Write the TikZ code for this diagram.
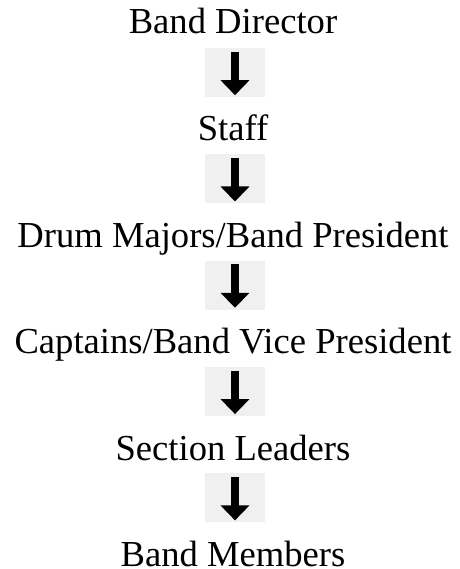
\documentclass[tikz,border=0pt]{standalone}
\usepackage{fontspec}
\setmainfont{Liberation Serif}
\usetikzlibrary{arrows.meta}
\tikzset{
  lbl/.style={anchor=base, inner sep=0pt, font=\fontsize{36.6}{40}\selectfont},
  arrbox/.style={fill=black!6, draw=none, minimum width=60pt, minimum height=49pt, inner sep=0pt},
  bigarrow/.style={line width=8pt, -{Triangle[width=28pt,length=15pt]}}
}
\begin{document}
\begin{tikzpicture}
\useasboundingbox (0pt,0pt) rectangle (459pt,-569pt);
\node[lbl] (t0) at (233pt,-34pt) {Band Director};
\node[lbl] (t1) at (233pt,-140.5pt) {Staff};
\node[lbl] (t2) at (233pt,-247pt) {Drum Majors/Band President};
\node[lbl] (t3) at (233pt,-353.5pt) {Captains/Band Vice President};
\node[lbl] (t4) at (233pt,-460pt) {Section Leaders};
\node[lbl] (t5) at (233pt,-566pt) {Band Members};
\foreach \i in {0,...,4}{
  \node[arrbox] (b\i) at (235pt,{-72.5pt-106.3*\i*1pt}) {};
  \coordinate (s\i) at ([yshift=-4pt]b\i.north);
  \coordinate (e\i) at ([yshift=2pt]b\i.south);
  \draw[bigarrow] (s\i) -- (e\i);
}
\end{tikzpicture}
\end{document}
